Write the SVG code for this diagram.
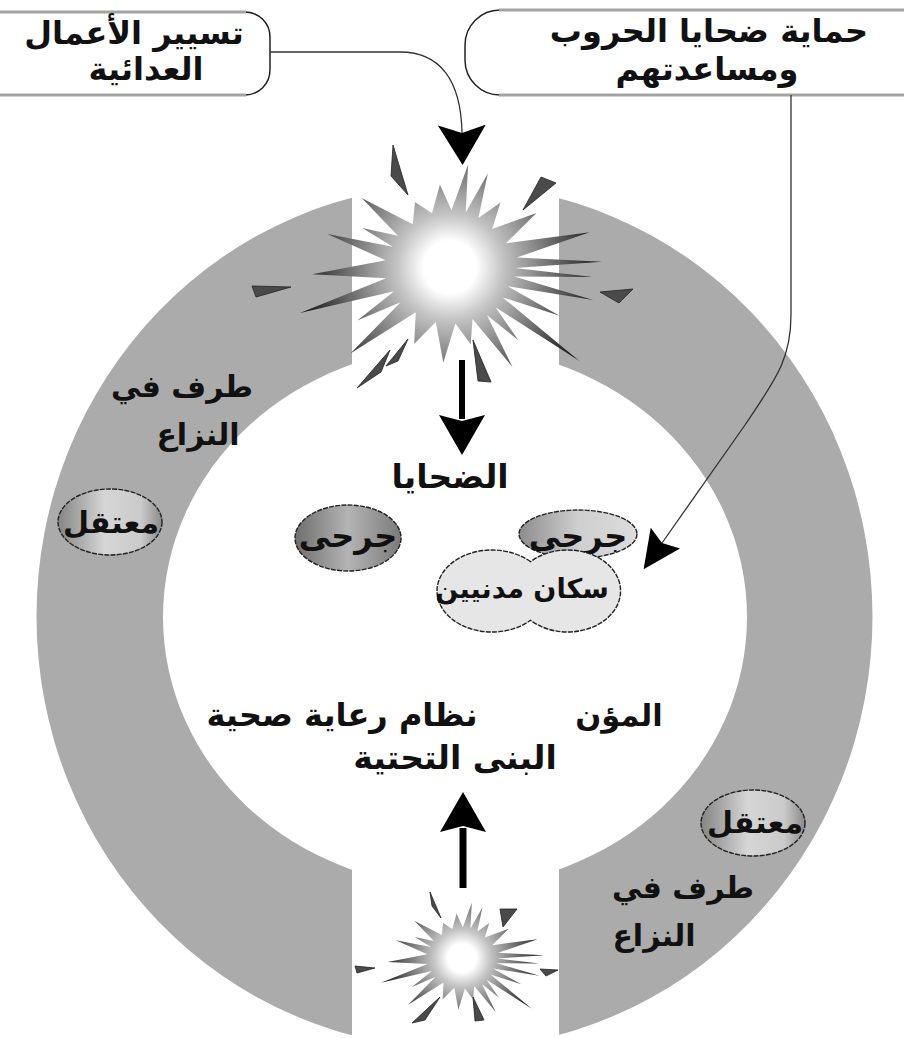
<svg xmlns="http://www.w3.org/2000/svg" width="904" height="1038" viewBox="0 0 904 1038">
  <style>
    .lbl { font-family: "DejaVu Sans", "Noto Sans", sans-serif; font-weight: bold; fill: #111; text-anchor: middle; }
    .ring { fill: #ababab; }
    .edge { fill: none; stroke: #222; stroke-width: 1.5; }
    .rule { fill: none; stroke: #a3a3a3; stroke-width: 3; }
    .link { fill: none; stroke: #333; stroke-width: 1.3; }
    .shaft { fill: none; stroke: #000; }
    .shard { fill: #4a4a4a; stroke: #222; stroke-width: 0.8; }
    .pill { stroke: #222; stroke-width: 1.4; stroke-dasharray: 5 1.2; }
  </style>
  <defs>
    <radialGradient id="blast" gradientUnits="userSpaceOnUse" cx="0" cy="0" r="155">
      <stop offset="0" stop-color="#ffffff"/>
      <stop offset="0.17" stop-color="#ffffff"/>
      <stop offset="0.34" stop-color="#c4c4c4"/>
      <stop offset="0.5" stop-color="#999999"/>
      <stop offset="0.75" stop-color="#555555"/>
      <stop offset="1" stop-color="#111111"/>
    </radialGradient>
    <linearGradient id="tagFill" x1="0" y1="0" x2="1" y2="0">
      <stop offset="0" stop-color="#858585"/>
      <stop offset="0.45" stop-color="#d6d6d6"/>
      <stop offset="0.8" stop-color="#cacaca"/>
      <stop offset="1" stop-color="#8a8a8a"/>
    </linearGradient>
    <linearGradient id="woundFill" x1="0" y1="0" x2="1" y2="0">
      <stop offset="0" stop-color="#6e6e6e"/>
      <stop offset="0.5" stop-color="#b4b4b4"/>
      <stop offset="1" stop-color="#7a7a7a"/>
    </linearGradient>
    <linearGradient id="woundLight" x1="0" y1="0" x2="1" y2="0">
      <stop offset="0" stop-color="#8c8c8c"/>
      <stop offset="0.5" stop-color="#cfcfcf"/>
      <stop offset="1" stop-color="#dcdcdc"/>
    </linearGradient>
    <clipPath id="ringCut">
      <rect x="0" y="0" width="352" height="1038"/>
      <rect x="559" y="0" width="345" height="1038"/>
    </clipPath>
    <marker id="thinHead" markerUnits="userSpaceOnUse" viewBox="0 0 40 48" markerWidth="40" markerHeight="48" refX="8" refY="24" orient="auto">
      <path d="M0,0 L40,24 L0,48 L8,24 Z" fill="#000"/>
    </marker>
    <marker id="thinHeadSm" markerUnits="userSpaceOnUse" viewBox="0 0 38 36" markerWidth="38" markerHeight="36" refX="6" refY="18" orient="auto">
      <path d="M0,0 L38,18 L0,36 L6,18 Z" fill="#000"/>
    </marker>
    <marker id="boldHead" markerUnits="userSpaceOnUse" viewBox="0 0 40 46" markerWidth="40" markerHeight="46" refX="4" refY="23" orient="auto">
      <path d="M0,0 L40,23 L0,46 L6,23 Z" fill="#000"/>
    </marker>
    <!-- jagged burst, centred on the origin -->
    <polygon id="blastStar" fill="url(#blast)" points="139.7,-34.8 66.8,-9.5 151.9,-5.3 64.8,1.1 142.7,10 64.1,9.6 143.2,33.1 57.6,19.3 109.6,48.8 52.7,30.4 129.4,94 45.5,40.2 68.2,73.1 37,48.2 62.5,100.1 22.5,52 20.7,77.3 5.4,56.4 -6.7,95.8 -14.2,54.9 -35.9,77 -34.2,45.2 -99.6,86.6 -49.4,35.2 -92.7,53.5 -55.8,24.2 -150.1,45.9 -63.9,11.2 -137.8,7.2 -64.4,-6.8 -122.7,-32.9 -57.2,-20.3 -87.7,-39 -52.1,-31.3 -88.3,-69 -37.3,-42.8 -35,-65 -18,-53.7 -10.1,-82.4 1.5,-56.7 18.1,-102.4 15.7,-54.5 37.8,-93.6 28.4,-49.1 50.5,-64.6 42.1,-37.9 86.5,-54 55.9,-23.8"/>
  </defs>

  <!-- conflict ring, open at top and bottom -->
  <g id="conflict-ring" clip-path="url(#ringCut)">
    <path class="ring" fill-rule="evenodd" d="M36.5,616.5 a418,432 0 1,0 836,0 a418,432 0 1,0 -836,0 Z M163,617 a292,270 0 1,0 584,0 a292,270 0 1,0 -584,0 Z"/>
  </g>

  <!-- upper blast -->
  <g id="blast-top">
    <use href="#blastStar" transform="translate(450,267)"/>
    <polygon class="shard" points="393,145 408,195 391,176"/>
    <polygon class="shard" points="523,210 556,183 541,177"/>
    <polygon class="shard" points="252,286 291,287 256,297"/>
    <polygon class="shard" points="600,292 633,289 619,303"/>
    <polygon class="shard" points="357,388 390,350 381,372"/>
    <polygon class="shard" points="386,366 408,339 398,361"/>
    <polygon class="shard" points="473,340 491,382 478,381"/>
  </g>

  <!-- lower blast -->
  <g id="blast-bottom">
    <use href="#blastStar" transform="translate(462,958) scale(0.54)"/>
    <polygon class="shard" points="430,892 441,918 432,906"/>
    <polygon class="shard" points="500,909 517,909 503,927"/>
    <polygon class="shard" points="355,966 375,968 357,973"/>
    <polygon class="shard" points="540,969 558,970 546,976"/>
    <polygon class="shard" points="412,1023 440,997 425,1020"/>
    <polygon class="shard" points="473,997 484,1020 475,1021"/>
  </g>

  <!-- callout: conduct of hostilities -->
  <g id="box-hostilities">
    <path class="edge" d="M245,12 A25,25 0 0,1 270,37 V70 A25,25 0 0,1 245,95"/>
    <path class="rule" d="M-5,12 H246 M-5,95 H246"/>
    <text class="lbl" x="134" y="44" font-size="32">تسيير الأعمال</text>
    <text class="lbl" x="146" y="80" font-size="32">العدائية</text>
  </g>

  <!-- callout: protection of war victims -->
  <g id="box-protection">
    <path class="edge" d="M500,10 A35,35 0 0,0 465,45 V60 A35,35 0 0,0 500,95"/>
    <path class="rule" d="M499,10 H909 M499,95 H909"/>
    <text class="lbl" x="709" y="42" font-size="32">حماية ضحايا الحروب</text>
    <text class="lbl" x="707" y="80" font-size="32">ومساعدتهم</text>
  </g>

  <!-- connectors -->
  <g id="connectors">
    <path class="link" d="M270,52 H400 C440,52 461,80 462,133" marker-end="url(#thinHead)"/>
    <path class="link" d="M791,95 V315 C791,360 775,380 745,425 L662,543" marker-end="url(#thinHeadSm)"/>
    <path class="shaft" stroke-width="6" d="M462,360 V419" marker-end="url(#boldHead)"/>
    <path class="shaft" stroke-width="7" d="M463,888 V828" marker-end="url(#boldHead)"/>
  </g>

  <g id="label-victims">
    <text class="lbl" x="450" y="488" font-size="33">الضحايا</text>
  </g>

  <g id="party-left">
    <text class="lbl" x="182" y="397" font-size="30">طرف في</text>
    <text class="lbl" x="198" y="445" font-size="30">النزاع</text>
  </g>

  <g id="party-right">
    <text class="lbl" x="683" y="898" font-size="30">طرف في</text>
    <text class="lbl" x="654" y="946" font-size="30">النزاع</text>
  </g>

  <g id="detainee-left">
    <ellipse class="pill" cx="110" cy="522" rx="52" ry="33" fill="url(#tagFill)"/>
    <text class="lbl" x="111" y="533" font-size="30">معتقل</text>
  </g>

  <g id="detainee-right">
    <ellipse class="pill" cx="753" cy="823" rx="52" ry="33" fill="url(#tagFill)"/>
    <text class="lbl" x="755" y="833" font-size="30">معتقل</text>
  </g>

  <g id="wounded-left">
    <ellipse class="pill" cx="348" cy="538" rx="53" ry="33" fill="url(#woundFill)"/>
    <text class="lbl" x="348" y="547" font-size="32">جرحى</text>
  </g>

  <g id="wounded-right">
    <ellipse class="pill" cx="578" cy="534" rx="59" ry="24" fill="url(#woundLight)"/>
    <text class="lbl" x="578" y="547" font-size="32">جرحى</text>
  </g>

  <g id="civilians">
    <path class="pill" fill="#e6e6e6" d="M530.5,561.7 A55,41 0 1,0 530.5,620.3 A53,41 0 1,0 530.5,561.7 Z"/>
    <text class="lbl" x="522" y="598" font-size="27">سكان مدنيين</text>
  </g>

  <g id="services">
    <text class="lbl" x="342" y="726" font-size="32">نظام رعاية صحية</text>
    <text class="lbl" x="455" y="769" font-size="33">البنى التحتية</text>
    <text class="lbl" x="619" y="726" font-size="30.5">المؤن</text>
  </g>
</svg>
